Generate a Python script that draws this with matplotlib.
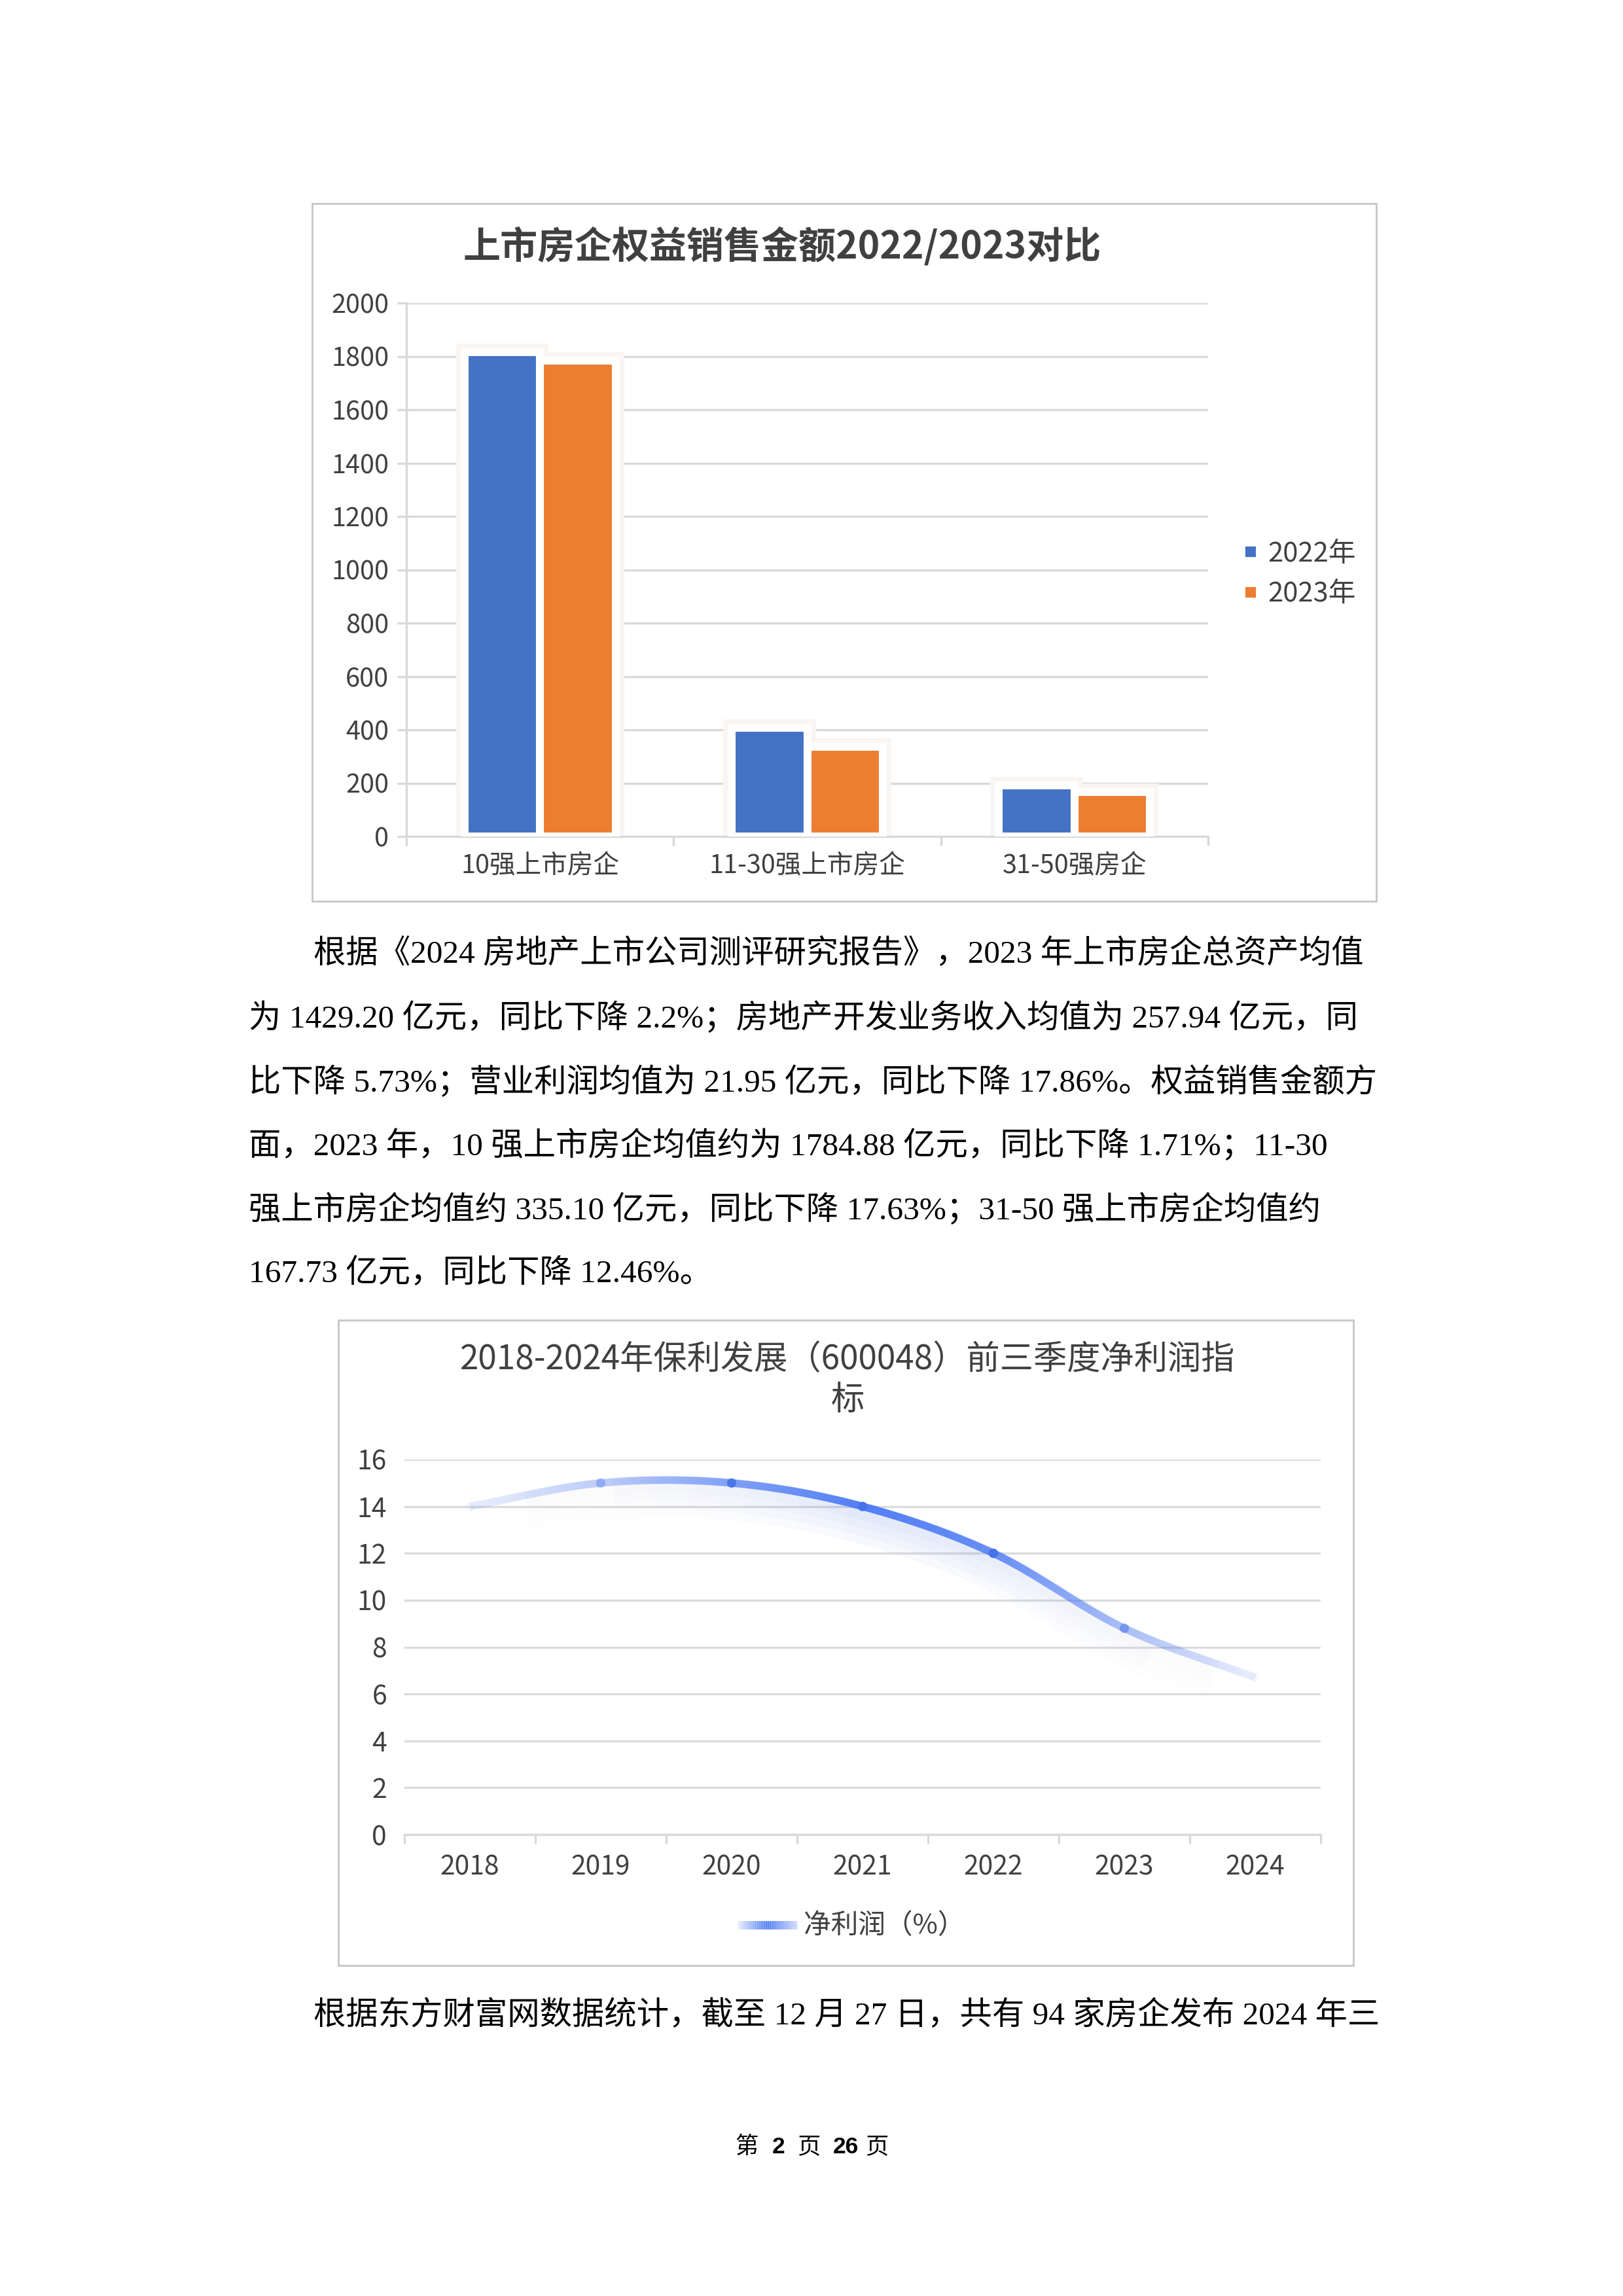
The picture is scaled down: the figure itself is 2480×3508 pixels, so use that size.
import numpy as np
import matplotlib
matplotlib.use('Agg')
import matplotlib.pyplot as plt
from matplotlib.patches import Rectangle
from matplotlib.collections import LineCollection
from matplotlib.lines import Line2D

# ---- datos ----
bar_cats = ['10强上市房企', '11-30强上市房企', '31-50强房企']
bar_2022 = [1815.9, 406.8, 191.6]
bar_2023 = [1784.88, 335.10, 167.73]
bar_series = ['2022年', '2023年']
bar_colors = ['#4472C4', '#ED7D31']
bar_yticks = [0, 200, 400, 600, 800, 1000, 1200, 1400, 1600, 1800, 2000]

years = ['2018', '2019', '2020', '2021', '2022', '2023', '2024']
profit = [14.0, 15.0, 15.0, 14.0, 12.0, 8.8, 6.7]
profit_yticks = [0, 2, 4, 6, 8, 10, 12, 14, 16]
# opacidad del degradado de la linea en cada año
profit_alpha = [0.12, 0.35, 0.7, 1.0, 0.85, 0.45, 0.12]

para1 = [
    '根据《2024 房地产上市公司测评研究报告》，2023 年上市房企总资产均值',
    '为 1429.20 亿元，同比下降 2.2%；房地产开发业务收入均值为 257.94 亿元，同',
    '比下降 5.73%；营业利润均值为 21.95 亿元，同比下降 17.86%。权益销售金额方',
    '面，2023 年，10 强上市房企均值约为 1784.88 亿元，同比下降 1.71%；11-30',
    '强上市房企均值约 335.10 亿元，同比下降 17.63%；31-50 强上市房企均值约',
    '167.73 亿元，同比下降 12.46%。',
]
para2 = ['根据东方财富网数据统计，截至 12 月 27 日，共有 94 家房企发布 2024 年三']

W, H = 2480, 3508
DPI = 300
SANS = ['Noto Sans CJK SC', 'DejaVu Sans']
SERIF = ['Liberation Serif', 'Noto Sans CJK SC']
plt.rcParams['font.family'] = SANS

GRID = '#d9d9d9'
TXT = '#404040'


def fx(px):
    return px / W


def fy(py):
    return 1 - py / H


fig = plt.figure(figsize=(W / DPI, H / DPI), dpi=DPI, facecolor='white')

# ---------- grafico 1: barras ----------
fig.add_artist(Rectangle((fx(477), fy(1377)), fx(2103) - fx(477), fy(311) - fy(1377),
                         transform=fig.transFigure, fill=False, edgecolor='#c8c8c8', lw=0.7))
fig.text(fx(1195), fy(377), '上市房企权益销售金额2022/2023对比', ha='center', va='center',
         fontsize=13.7, weight='bold', color=TXT)

ax1 = fig.add_axes([fx(621), fy(1278), fx(1846) - fx(621), fy(463) - fy(1278)])
x = np.arange(len(bar_cats))
w = 0.283
offsets = [-w / 2, w / 2]
for vals, off in zip([bar_2022, bar_2023], offsets):
    ax1.bar(x + off, vals, w, color='#fbfaf9', edgecolor='#f8f5f3', linewidth=6.2, zorder=2)
for vals, off, col in zip([bar_2022, bar_2023], offsets, bar_colors):
    ax1.bar(x + off, vals, w, color=col, edgecolor='white', linewidth=2.9, zorder=3)

ax1.set_xlim(-0.5, len(bar_cats) - 0.5)
ax1.set_ylim(0, 2000)
ax1.set_yticks(bar_yticks)
ax1.set_yticklabels([str(v) for v in bar_yticks])
ax1.set_xticks(x)
ax1.set_xticklabels(bar_cats)
ax1.set_xticks(np.arange(-0.5, len(bar_cats)), minor=True)
ax1.yaxis.grid(True, color=GRID, lw=0.8)
ax1.set_axisbelow(True)
for s in ['top', 'right']:
    ax1.spines[s].set_visible(False)
for s in ['left', 'bottom']:
    ax1.spines[s].set_color(GRID)
    ax1.spines[s].set_linewidth(0.8)
ax1.tick_params(axis='y', length=3.4, width=0.8, color=GRID, pad=3, labelsize=9.5, labelcolor=TXT)
ax1.tick_params(axis='x', which='major', length=0, pad=6, labelsize=9.5, labelcolor=TXT)
ax1.tick_params(axis='x', which='minor', length=3.4, width=0.8, color=GRID)

handles = [Line2D([], [], marker='s', ls='none', color=c, markersize=2.9) for c in bar_colors]
fig.legend(handles, bar_series, loc='center left', bbox_to_anchor=(fx(1901), fy(877)),
           frameon=False, fontsize=10, handlelength=0.5, handletextpad=0.36,
           labelspacing=0.5, borderpad=0, borderaxespad=0, labelcolor=TXT)

# ---------- texto ----------
line_y = [1458, 1555, 1653, 1750, 1848, 1946]
for i, (ln, yy) in enumerate(zip(para1, line_y)):
    x0 = 479 if i == 0 else 380
    fig.text(fx(x0), fy(yy), ln, ha='left', va='center', fontsize=11.85, family=SERIF, color='black')
fig.text(fx(479), fy(3080), para2[0], ha='left', va='center', fontsize=11.85, family=SERIF,
         color='black')

# ---------- grafico 2: linea ----------
fig.add_artist(Rectangle((fx(517), fy(3003)), fx(2068) - fx(517), fy(2017) - fy(3003),
                         transform=fig.transFigure, fill=False, edgecolor='#c8c8c8', lw=0.7))
fig.text(fx(1295), fy(2108), '2018-2024年保利发展（600048）前三季度净利润指\n标',
         ha='center', va='center', fontsize=12.3, color=TXT, linespacing=1.2)

ax2 = fig.add_axes([fx(618), fy(2803), fx(2018) - fx(618), fy(2230) - fy(2803)])
xi = np.arange(len(years), dtype=float)
yi = np.array(profit)
m = np.gradient(yi)

# curva suave (Hermite) entre los puntos
xs, ys = [], []
for i in range(len(xi) - 1):
    t = np.linspace(0, 1, 80, endpoint=False)
    h00 = 2 * t**3 - 3 * t**2 + 1
    h10 = t**3 - 2 * t**2 + t
    h01 = -2 * t**3 + 3 * t**2
    h11 = t**3 - t**2
    xs.append(xi[i] + t)
    ys.append(h00 * yi[i] + h10 * m[i] + h01 * yi[i + 1] + h11 * m[i + 1])
xs = np.concatenate(xs + [[xi[-1]]])
ys = np.concatenate(ys + [[yi[-1]]])
alp = np.interp(xs, xi, profit_alpha)
base = np.array([0.29, 0.47, 0.96])

pts = np.column_stack([xs, ys]).reshape(-1, 1, 2)
segs = np.concatenate([pts[:-1], pts[1:]], axis=1)
a_seg = (alp[:-1] + alp[1:]) / 2

# sombra difusa bajo la linea
px_per_unit = (2803 - 2230) / 16
for off, lw in [(8, 6), (14, 9), (20, 12), (26, 15)]:
    sh = segs.copy()
    sh[:, :, 1] -= off / px_per_unit
    cols = np.zeros((len(sh), 4))
    cols[:, :3] = base
    cols[:, 3] = a_seg ** 2 * 0.04
    ax2.add_collection(LineCollection(sh, colors=cols, linewidths=lw, capstyle='butt', zorder=2))

cols = np.zeros((len(segs), 4))
cols[:, :3] = base
cols[:, 3] = a_seg
ax2.add_collection(LineCollection(segs, colors=cols, linewidths=2.8, capstyle='butt', zorder=3))

mk = np.zeros((len(xi), 4))
mk[:, :3] = base * 0.95
mk[:, 3] = np.clip((np.array(profit_alpha) - 0.1) * 1.5, 0, 1)
ax2.scatter(xi, yi, s=12, c=mk, zorder=4, linewidths=0)

ax2.set_xlim(-0.5, len(years) - 0.5)
ax2.set_ylim(0, 16)
ax2.set_yticks(profit_yticks)
ax2.set_yticklabels([str(v) for v in profit_yticks])
ax2.set_xticks(xi)
ax2.set_xticklabels(years)
ax2.set_xticks(np.arange(-0.5, len(years)), minor=True)
ax2.yaxis.grid(True, color='#dcdcdc', lw=0.8)
ax2.set_axisbelow(True)
for s in ['top', 'right', 'left']:
    ax2.spines[s].set_visible(False)
ax2.spines['bottom'].set_color(GRID)
ax2.spines['bottom'].set_linewidth(0.8)
ax2.tick_params(axis='y', length=0, pad=6.5, labelsize=9.8, labelcolor=TXT)
ax2.tick_params(axis='x', which='major', length=0, pad=7, labelsize=9.8, labelcolor=TXT)
ax2.tick_params(axis='x', which='minor', length=3.4, width=0.8, color=GRID)

# leyenda con degradado
lx = np.linspace(fx(1127), fx(1218), 60)
ly = np.full_like(lx, fy(2941))
lp = np.column_stack([lx, ly]).reshape(-1, 1, 2)
lsegs = np.concatenate([lp[:-1], lp[1:]], axis=1)
la = np.interp(np.linspace(0, 1, len(lsegs)), [0, 0.5, 1], [0.12, 1.0, 0.25])
lcols = np.zeros((len(lsegs), 4))
lcols[:, :3] = base
lcols[:, 3] = la
fig.add_artist(LineCollection(lsegs, colors=lcols, linewidths=3.1, capstyle='butt',
                              transform=fig.transFigure))
fig.text(fx(1228), fy(2943), '净利润（%）', ha='left', va='center', fontsize=10, color=TXT)

# ---------- pie de pagina ----------
fig.text(fx(1123), fy(3280), '第', ha='left', va='center', fontsize=8.5, color='black')
fig.text(fx(1180), fy(3280), '2', ha='left', va='center', fontsize=8.5, weight='bold',
         family=['Liberation Sans'], color='black')
fig.text(fx(1218), fy(3280), '页', ha='left', va='center', fontsize=8.5, color='black')
fig.text(fx(1273), fy(3280), '26', ha='left', va='center', fontsize=8.5, weight='bold',
         family=['Liberation Sans'], color='black')
fig.text(fx(1322), fy(3280), '页', ha='left', va='center', fontsize=8.5, color='black')

fig.savefig('out.png', dpi=DPI, facecolor='white')
